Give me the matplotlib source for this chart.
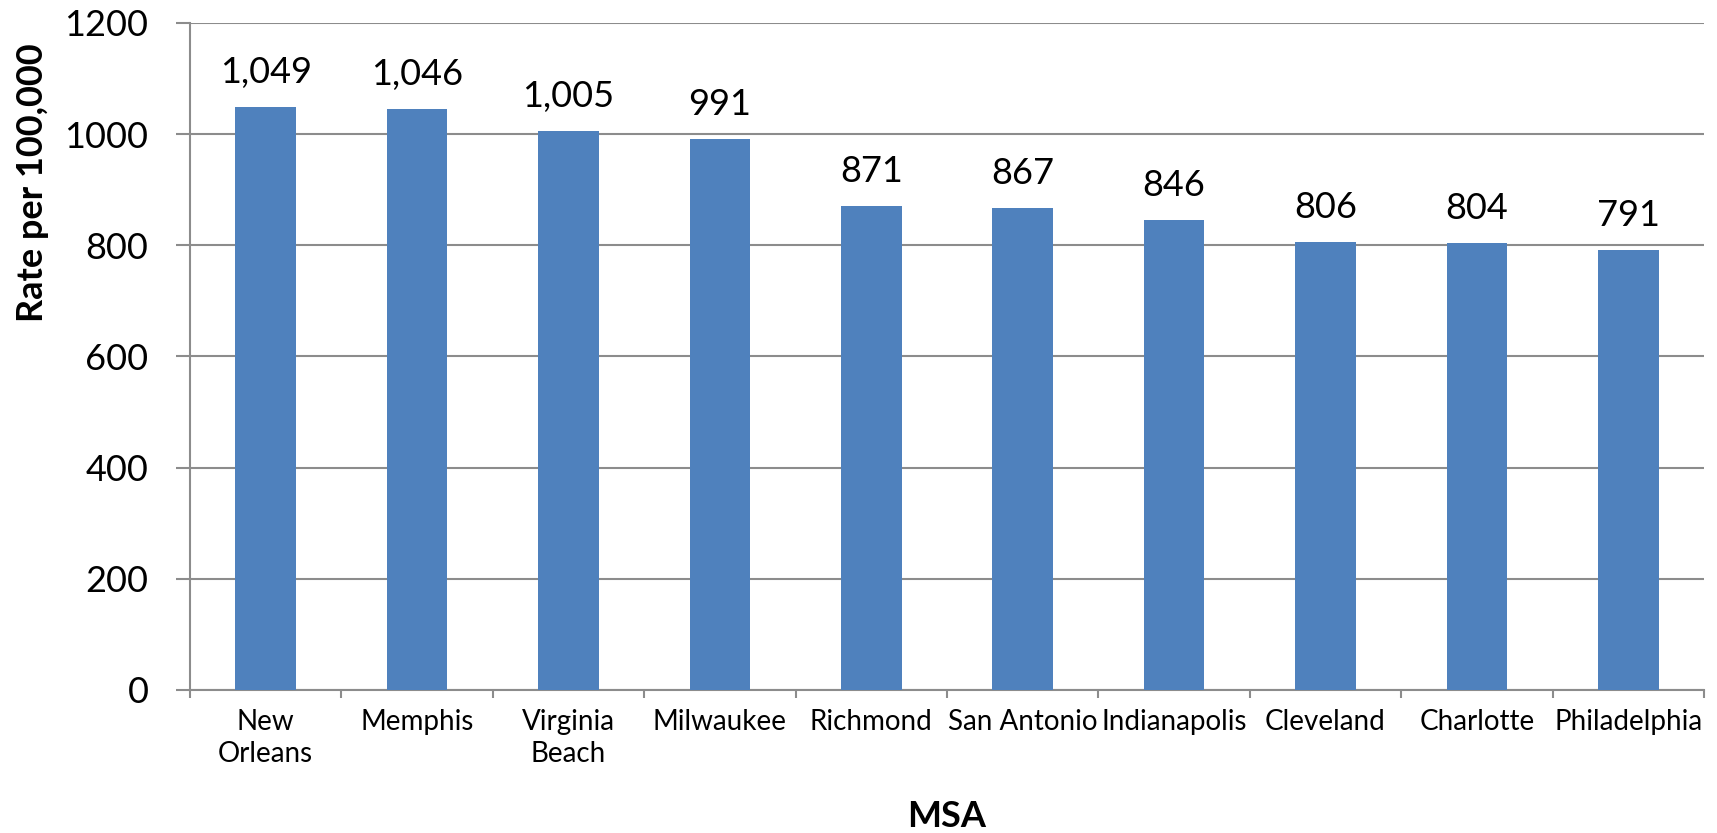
import matplotlib
matplotlib.use("Agg")
import matplotlib.pyplot as plt
import numpy as np

plt.rcParams["font.family"] = ["Lato", "DejaVu Sans"]

# MSA rates per 100,000
msas = ["New\nOrleans", "Memphis", "Virginia\nBeach", "Milwaukee", "Richmond",
        "San Antonio", "Indianapolis", "Cleveland", "Charlotte", "Philadelphia"]
rates = [1049, 1046, 1005, 991, 871, 867, 846, 806, 804, 791]
yticks = [0, 200, 400, 600, 800, 1000, 1200]

bar_color = "#4F81BD"
grid_color = "#8C8C8C"

fig = plt.figure(figsize=(17.17, 8.33), dpi=100)
ax = fig.add_axes([0.1107, 0.1717, 0.8817, 0.8007])

x = np.arange(len(msas))
bars = ax.bar(x, rates, width=0.40, color=bar_color, zorder=3)

ax.set_xlim(-0.5, len(msas) - 0.5)
ax.set_ylim(0, 1200)
ax.set_yticks(yticks)
ax.set_yticklabels([str(v) for v in yticks], fontsize=26)
ax.yaxis.grid(True, color=grid_color, linewidth=1.5, zorder=0)
ax.tick_params(axis="y", length=10, width=1.5, color=grid_color, pad=20)

# ticks at the category boundaries, labels at the centres
ax.set_xticks(np.arange(len(msas) + 1) - 0.5)
ax.set_xticklabels([])
ax.tick_params(axis="x", which="major", length=6, width=1.5,
               color=grid_color)
ax.set_xticks(x, minor=True)
ax.set_xticklabels(msas, minor=True, fontsize=20, linespacing=1.25)
ax.tick_params(axis="x", which="minor", length=0, pad=14)

for side in ["top", "right"]:
    ax.spines[side].set_visible(False)
for side in ["left", "bottom"]:
    ax.spines[side].set_color(grid_color)
    ax.spines[side].set_linewidth(1.5)

for b, v in zip(bars, rates):
    ax.annotate(f"{v:,}", (b.get_x() + b.get_width() / 2, v),
                xytext=(0, 13), textcoords="offset points",
                ha="center", va="bottom", fontsize=26)

ax.set_xlabel("MSA", fontsize=26, fontweight="bold", labelpad=24)
ax.set_ylabel("Rate per 100,000", fontsize=26, fontweight="bold")
ax.yaxis.set_label_coords(-0.093, 0.76)

fig.savefig("out.png", dpi=100)
